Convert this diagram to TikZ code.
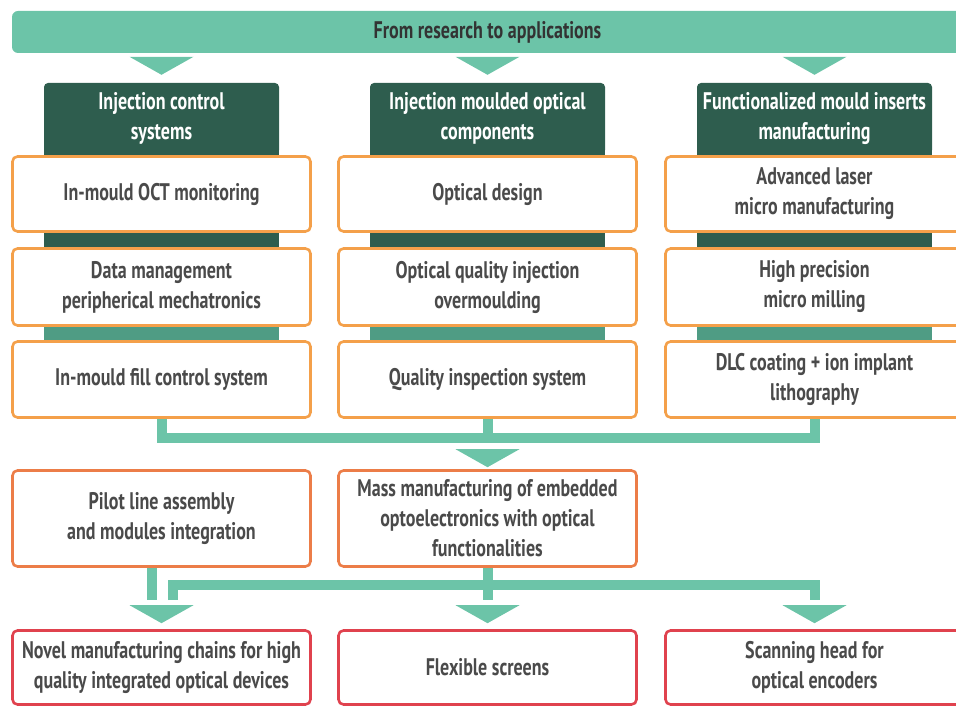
\documentclass[tikz,border=0pt]{standalone}
\usepackage{fontspec}
\setmainfont{PT Sans}[FakeStretch=0.75]
\usetikzlibrary{calc,backgrounds}
\definecolor{mint}{HTML}{6CC4A8}
\definecolor{dkgreen}{HTML}{2E5D4E}
\definecolor{midteal}{HTML}{4F9C84}
\definecolor{orng}{HTML}{F4A04A}
\definecolor{orred}{HTML}{EC7D48}
\definecolor{redb}{HTML}{E0424E}
\definecolor{txtgray}{HTML}{4A4A4A}
\begin{document}
\begin{tikzpicture}[x=1pt,y=-1pt,
  lbl/.style={font=\bfseries\fontsize{24}{30}\selectfont, align=center},
  box/.style={lbl, draw=orng, line width=2.6pt, rounded corners=5pt, fill=white,
    text=txtgray, minimum width=298pt, inner sep=0pt},
  box4/.style={box, draw=orred, minimum height=96pt},
  box5/.style={box, draw=redb, minimum height=74pt},
  hdr/.style={lbl, fill=dkgreen, text=white, minimum width=235pt, minimum height=71pt,
    inner sep=0pt, rounded corners=4pt},
  ban/.style={lbl, fill=mint, text=black!80, minimum width=951pt, minimum height=42pt,
    inner sep=0pt, rounded corners=6pt},
  conn/.style={draw=mint, line width=10pt},
  tri/.style={fill=mint}
]
\useasboundingbox (0,0) rectangle (956,708);

% banner
\node[ban] (ban) at (487.5,32) {From research to applications};

% headers
\node[hdr] (h1) at (161.5,118.5) {Injection control\\systems};
\node[hdr] (h2) at (487.5,118.5) {Injection moulded optical\\components};
\node[hdr] (h3) at (814.5,118.5) {Functionalized mould inserts\\manufacturing};

\foreach \h in {h1,h2,h3}{
  \fill[tri] ($(\h.north)+(-32,-26)$) -- ($(\h.north)+(32,-26)$) -- ($(\h.north)+(0,-8)$) -- cycle;
}

% column boxes
\node[box, minimum height=75pt] (a1) at (161.5,194) {In-mould OCT monitoring};
\node[box, minimum height=77pt] (a2) at (161.5,287) {Data management\\peripherical mechatronics};
\node[box, minimum height=76pt] (a3) at (161.5,379.5) {In-mould fill control system};

\node[box, minimum height=75pt] (b1) at (487.5,194) {Optical design};
\node[box, minimum height=77pt] (b2) at (487.5,287) {Optical quality injection\\overmoulding};
\node[box, minimum height=76pt] (b3) at (487.5,379.5) {Quality inspection system};

\node[box, minimum height=75pt] (c1) at (814.5,194) {Advanced laser\\micro manufacturing};
\node[box, minimum height=77pt] (c2) at (814.5,287) {High precision\\micro milling};
\node[box, minimum height=76pt] (c3) at (814.5,379.5) {DLC coating + ion implant\\lithography};

% strips behind boxes
\begin{scope}[on background layer]
\foreach \h/\r/\s in {h1/a1/a2, h2/b1/b2, h3/c1/c2}{
  \fill[dkgreen] ($(\h.south west)+(0,-4)$) rectangle ($(\h.east |- \s.north)+(0,4)$);
}
\foreach \h/\r/\s in {h1/a2/a3, h2/b2/b3, h3/c2/c3}{
  \fill[midteal] ($(\h.west |- \r.south)+(0,-4)$) rectangle ($(\h.east |- \s.north)+(0,4)$);
}
\end{scope}

% row 4
\node[box4] (p) at (161.5,518.5) {Pilot line assembly\\and modules integration};
\node[box4] (m) at (487.5,518.5) {Mass manufacturing of embedded\\optoelectronics with optical\\functionalities};

% row 5
\node[box5] (n1) at (161.5,667.5) {Novel manufacturing chains for high\\quality integrated optical devices};
\node[box5] (n2) at (487.5,667.5) {Flexible screens};
\node[box5] (n3) at (814.5,667.5) {Scanning head for\\optical encoders};

% connectors from columns
\draw[conn] (a3.south) -- ++(0,19) -| (c3.south);
\draw[conn] (b3.south) -- ++(0,19);
\fill[tri] ($(m.north)+(-32,-20)$) -- ($(m.north)+(32,-20)$) -- ($(m.north)+(0,-2)$) -- cycle;

% connectors to applications
\draw[conn] ($(p.south)+(-9.5,0)$) -- ++(0,32);
\draw[conn] (m.south) -- ++(0,32);
\draw[conn] ($(n1.north)+(11,-29)$) |- ($(m.south)+(0,17)$) -| ($(n3.north)+(0,-29)$);
\foreach \n in {n1,n2,n3}{
  \fill[tri] ($(\n.north)+(-32,-24)$) -- ($(\n.north)+(32,-24)$) -- ($(\n.north)+(0,-6)$) -- cycle;
}
\end{tikzpicture}
\end{document}
